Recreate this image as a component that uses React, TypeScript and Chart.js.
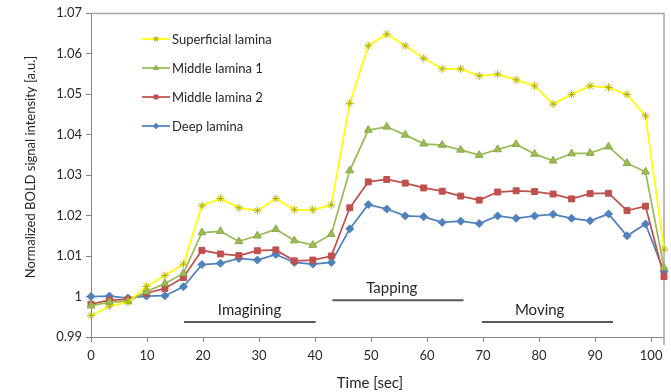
import React, { useEffect, useRef } from 'react';
import { Chart, registerables } from 'chart.js';
import { drawPoint } from 'chart.js/helpers';

Chart.register(...registerables);

const times = [0, 3.3, 6.6, 9.9, 13.2, 16.5, 19.8, 23.1, 26.4, 29.7, 33, 36.3, 39.6, 42.9, 46.2, 49.5, 52.8, 56.1, 59.4, 62.7, 66, 69.3, 72.6, 75.9, 79.2, 82.5, 85.8, 89.1, 92.4, 95.7, 99, 102.3];

const superficial = [0.9953, 0.9976, 0.9986, 1.0025, 1.0052, 1.0080, 1.0224, 1.0242, 1.0219, 1.0212, 1.0242, 1.0214, 1.0214, 1.0226, 1.0477, 1.0619, 1.0648, 1.0619, 1.0588, 1.0562, 1.0562, 1.0545, 1.0549, 1.0535, 1.0520, 1.0475, 1.0499, 1.0520, 1.0516, 1.0499, 1.0446, 1.0117];
const middle1 = [0.9977, 0.9986, 0.9988, 1.0012, 1.0032, 1.0057, 1.0158, 1.0161, 1.0136, 1.0150, 1.0166, 1.0138, 1.0127, 1.0154, 1.0311, 1.0411, 1.0419, 1.0399, 1.0377, 1.0374, 1.0362, 1.0349, 1.0363, 1.0376, 1.0352, 1.0335, 1.0353, 1.0354, 1.0370, 1.0329, 1.0308, 1.0071];
const middle2 = [0.9981, 0.9991, 0.9993, 1.0008, 1.0020, 1.0047, 1.0114, 1.0105, 1.0101, 1.0113, 1.0115, 1.0088, 1.0090, 1.0100, 1.0219, 1.0283, 1.0289, 1.0280, 1.0268, 1.0260, 1.0248, 1.0238, 1.0258, 1.0261, 1.0259, 1.0253, 1.0241, 1.0254, 1.0255, 1.0212, 1.0223, 1.0049];
const deep = [1.0000, 1.0001, 0.9996, 1.0001, 1.0002, 1.0024, 1.0079, 1.0082, 1.0094, 1.0090, 1.0104, 1.0084, 1.0080, 1.0084, 1.0167, 1.0227, 1.0216, 1.0199, 1.0197, 1.0183, 1.0186, 1.0180, 1.0199, 1.0193, 1.0199, 1.0203, 1.0193, 1.0187, 1.0204, 1.0150, 1.0179, 1.0061];

const seriesLabels = ['Superficial lamina', 'Middle lamina 1', 'Middle lamina 2', 'Deep lamina'];

const xTicks = [0, 10, 20, 30, 40, 50, 60, 70, 80, 90, 100];
const yTicks = [0.99, 1.0, 1.01, 1.02, 1.03, 1.04, 1.05, 1.06, 1.07];

const phaseLabels = ['Imagining', 'Tapping', 'Moving'];
const phaseStart = [16.6, 43.1, 69.8];
const phaseEnd = [40.1, 66.5, 93.2];
const phaseLineY = [0.9937, 0.9991, 0.9937];
const phaseLabelX = [28.3, 53.7, 80.1];

const xTitle = 'Time [sec]';
const yTitle = 'Normalized BOLD signal intensity [a.u.]';

const FONT = 'Lato, "Open Sans", sans-serif';
const AXIS = '#868686';
const TEXT = '#262626';

const styles = [
  { line: '#FFFF00', point: 'star', pBorder: '#B5B000', pBg: '#FFFF00', r: 4 },
  { line: '#9BBB59', point: 'triangle', pBorder: '#8AAA48', pBg: '#9BBB59', r: 4.5 },
  { line: '#C0504D', point: 'rect', pBorder: '#C0504D', pBg: '#C0504D', r: 4.2 },
  { line: '#4F81BD', point: 'rectRot', pBorder: '#4F81BD', pBg: '#4F81BD', r: 4 },
];

const seriesData = [superficial, middle1, middle2, deep];

const overlayPlugin = {
  id: 'overlay',
  beforeDatasetsDraw(chart: any) {
    const { ctx, chartArea } = chart;
    ctx.save();
    ctx.strokeStyle = '#A6A6A6';
    ctx.lineWidth = 1.5;
    ctx.beginPath();
    ctx.moveTo(chartArea.left, chartArea.top + 0.5);
    ctx.lineTo(chartArea.right, chartArea.top + 0.5);
    ctx.lineTo(chartArea.right, chartArea.bottom + 8);
    ctx.stroke();
    ctx.restore();
  },
  afterDraw(chart: any) {
    const { ctx, scales } = chart;
    const xs = scales.x;
    const ys = scales.y;
    ctx.save();
    // phase annotations
    ctx.strokeStyle = '#595959';
    ctx.lineWidth = 2;
    ctx.fillStyle = TEXT;
    ctx.font = `15px ${FONT}`;
    ctx.textAlign = 'center';
    ctx.textBaseline = 'middle';
    for (let i = 0; i < phaseLabels.length; i++) {
      const y = ys.getPixelForValue(phaseLineY[i]);
      ctx.beginPath();
      ctx.moveTo(xs.getPixelForValue(phaseStart[i]), y);
      ctx.lineTo(xs.getPixelForValue(phaseEnd[i]), y);
      ctx.stroke();
      ctx.fillText(phaseLabels[i], xs.getPixelForValue(phaseLabelX[i]), y - 12);
    }
    // legend
    ctx.font = `13px ${FONT}`;
    ctx.textAlign = 'left';
    for (let i = 0; i < seriesLabels.length; i++) {
      const y = 39 + i * 29;
      const s = styles[i];
      ctx.strokeStyle = s.line;
      ctx.lineWidth = 1.75;
      ctx.beginPath();
      ctx.moveTo(142, y);
      ctx.lineTo(170, y);
      ctx.stroke();
      ctx.fillStyle = s.pBg;
      ctx.strokeStyle = s.pBorder;
      ctx.lineWidth = 1;
      drawPoint(ctx, { pointStyle: s.point, radius: 2.8, rotation: 0, borderWidth: 1 } as any, 156, y);
      ctx.fillStyle = TEXT;
      ctx.fillText(seriesLabels[i], 172, y + 1);
    }
    // axis titles
    ctx.font = `15px ${FONT}`;
    ctx.textAlign = 'center';
    ctx.fillText(xTitle, 370, 383);
    ctx.font = `13px ${FONT}`;
    ctx.translate(31, 167);
    ctx.rotate(-Math.PI / 2);
    ctx.fillText(yTitle, 0, 0);
    ctx.restore();
  },
};

export default function App() {
  const ref = useRef<HTMLCanvasElement>(null);
  useEffect(() => {
    document.body.style.margin = '0';
    const chart = new Chart(ref.current as HTMLCanvasElement, {
      type: 'line',
      data: {
        datasets: seriesData.map((vals, i) => ({
          label: seriesLabels[i],
          data: times.map((t, j) => ({ x: t, y: vals[j] })),
          borderColor: styles[i].line,
          backgroundColor: styles[i].pBg,
          borderWidth: 1.75,
          pointStyle: styles[i].point as any,
          pointRadius: styles[i].r,
          pointBorderColor: styles[i].pBorder,
          pointBackgroundColor: styles[i].pBg,
          pointBorderWidth: 1,
          tension: 0,
          clip: false as any,
        })),
      },
      options: {
        responsive: false,
        animation: false,
        devicePixelRatio: 1,
        layout: { padding: { left: 0, right: 7, top: 13, bottom: 0 } },
        plugins: { legend: { display: false }, tooltip: { enabled: false } },
        scales: {
          x: {
            type: 'linear',
            min: 0,
            max: 102.3,
            afterBuildTicks: (s: any) => { s.ticks = xTicks.map((v) => ({ value: v })); },
            afterFit: (s: any) => { s.height = 55; },
            grid: { display: true, drawOnChartArea: false, drawTicks: true, tickLength: 5, color: AXIS },
            border: { display: true, color: AXIS, width: 1 },
            ticks: { color: TEXT, font: { family: FONT, size: 13 }, padding: 6, maxRotation: 0 },
          },
          y: {
            type: 'linear',
            min: 0.99,
            max: 1.07,
            afterBuildTicks: (s: any) => { s.ticks = yTicks.map((v) => ({ value: v })); },
            afterFit: (s: any) => { s.width = 91; },
            grid: { display: true, drawOnChartArea: false, drawTicks: true, tickLength: 5, color: AXIS },
            border: { display: true, color: AXIS, width: 1 },
            ticks: {
              color: TEXT,
              font: { family: FONT, size: 13 },
              padding: 4,
              callback: (v: any) => String(Number(Number(v).toFixed(2))),
            },
          },
        },
      },
      plugins: [overlayPlugin],
    });
    return () => chart.destroy();
  }, []);
  return (
    <div style={{ width: 671, height: 392 }}>
      <canvas ref={ref} width={671} height={392} style={{ display: 'block' }} />
    </div>
  );
}
